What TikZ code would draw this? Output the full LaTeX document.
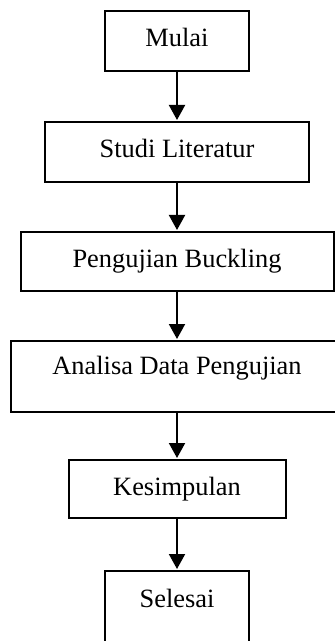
\documentclass[tikz,border=0pt]{standalone}
\usepackage{fontspec}
\setmainfont{Liberation Serif}
\usetikzlibrary{positioning,arrows.meta}
\tikzset{
  stepbox/.style={draw, line width=1pt, rectangle, inner sep=0pt, outer sep=0pt,
    minimum height=30pt, text height=9pt, text depth=3pt,
    font=\fontsize{13.2pt}{16pt}\selectfont},
  flow/.style={-{Triangle[width=8pt,length=7.5pt]}, line width=1pt, shorten >=1pt}
}
\begin{document}
\begin{tikzpicture}[node distance=25pt]
    \useasboundingbox (0,0) rectangle (167pt,-320.5pt);
    \node[stepbox, minimum width=72pt] at (88.5pt,-20.5pt) (mulai) {Mulai};
    \node[stepbox, minimum width=132pt, below = 25.5pt of mulai] (studi) {Studi Literatur};
    \node[stepbox, minimum width=156.5pt, minimum height=29.5pt, below = of studi] (uji) {Pengujian Buckling};
    \node[stepbox, minimum width=166.5pt, minimum height=35.5pt, text depth=11pt, below = of uji] (analisa) {Analisa Data Pengujian};
    \node[stepbox, minimum width=108.5pt, minimum height=29pt, below = 24pt of analisa] (simpul) {Kesimpulan};
    \node[stepbox, minimum width=72pt, minimum height=40pt, text depth=12.4pt, below = 26.5pt of simpul] (selesai) {Selesai};
    %
    \draw[flow] (mulai) -- (studi);
    \draw[flow] (studi) -- (uji);
    \draw[flow] (uji) -- (analisa);
    \draw[flow] (analisa) -- (simpul);
    \draw[flow] (simpul) -- (selesai);
\end{tikzpicture}
\end{document}
